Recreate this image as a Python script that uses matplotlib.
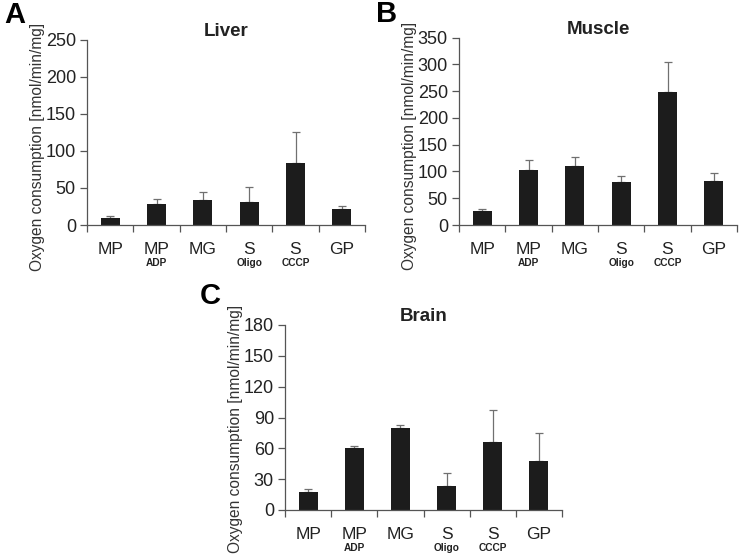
import numpy as np
import matplotlib
matplotlib.use('Agg')
import matplotlib.pyplot as plt
import matplotlib.transforms as mtrans

# Data
categories = ['MP', 'MP', 'MG', 'S', 'S', 'GP']
sublabels = ['', 'ADP', '', 'Oligo', 'CCCP', '']

liver = [9.4, 28.5, 34, 31, 84, 21]
liver_err = [2.3, 6.5, 10, 20, 42, 4]

muscle = [26, 103, 111, 80, 249, 83]
muscle_err = [4.5, 18, 17, 12, 55, 15]

brain = [17.5, 60, 80, 23.7, 66.3, 48]
brain_err = [3, 1.8, 2.8, 12, 31, 27.3]

plt.rcParams['font.family'] = 'Liberation Sans'

W, H = 744, 558
fig = plt.figure(figsize=(W / 100, H / 100), dpi=100)

def px_axes(left, right, top, bottom):
    return fig.add_axes([left / W, 1 - bottom / H, (right - left) / W, (bottom - top) / H])

def panel(ax, vals, errs, ymax, ystep, title, ylab_y):
    x = np.arange(len(vals))
    ax.bar(x, vals, width=0.41, color='#1c1c1c', zorder=2)
    ax.errorbar(x, vals, yerr=[np.zeros(len(errs)), errs], fmt='none',
                ecolor='#707070', elinewidth=0.9, capsize=3, capthick=0.9, zorder=1)
    ax.set_xlim(-0.5, len(vals) - 0.5)
    ax.set_ylim(0, ymax)
    ax.set_yticks(np.arange(0, ymax + 1, ystep))
    ax.set_xticks(x)
    ax.set_xticklabels(categories, fontsize=12.5)
    ax.set_xticks(np.arange(-0.5, len(vals), 1.0), minor=True)
    ax.tick_params(axis='x', which='major', length=0, pad=12, colors='#222222')
    ax.tick_params(axis='x', which='minor', length=5, width=0.9, color='#555555', direction='out')
    ax.tick_params(axis='y', length=5, width=0.9, color='#555555', labelsize=13, pad=3,
                   labelcolor='#222222')
    for s in ['top', 'right']:
        ax.spines[s].set_visible(False)
    for s in ['left', 'bottom']:
        ax.spines[s].set_color('#555555')
        ax.spines[s].set_linewidth(0.9)
    trans = mtrans.blended_transform_factory(ax.transData, ax.transAxes)
    for i, sl in enumerate(sublabels):
        if sl:
            ax.text(i, 0, sl, transform=trans + mtrans.ScaledTranslation(0, -38 / 100, fig.dpi_scale_trans),
                    ha='center', va='center', fontsize=7.3, fontweight='bold', color='#222222')
    ax.set_ylabel('Oxygen consumption [nmol/min/mg]', fontsize=11.2, color='#333333')
    ax.yaxis.label.set_verticalalignment('center')
    ax.yaxis.set_label_coords(-0.178, ylab_y)
    ax.set_title(title, fontsize=13.5, fontweight='bold', color='#222222', pad=0)

axA = px_axes(87, 365, 39.5, 225)
panel(axA, liver, liver_err, 250, 50, 'Liver', 0.42)
axB = px_axes(459, 737, 37.7, 225)
panel(axB, muscle, muscle_err, 350, 50, 'Muscle', 0.42)
axC = px_axes(285, 562, 325, 510)
panel(axC, brain, brain_err, 180, 30, 'Brain', 0.44)

fig.text(4 / W, 1 - 15 / H, 'A', fontsize=21, fontweight='bold', va='center', ha='left')
fig.text(376 / W, 1 - 14 / H, 'B', fontsize=21, fontweight='bold', va='center', ha='left')
fig.text(200 / W, 1 - 296 / H, 'C', fontsize=21, fontweight='bold', va='center', ha='left')

fig.savefig('out.png', dpi=100)
